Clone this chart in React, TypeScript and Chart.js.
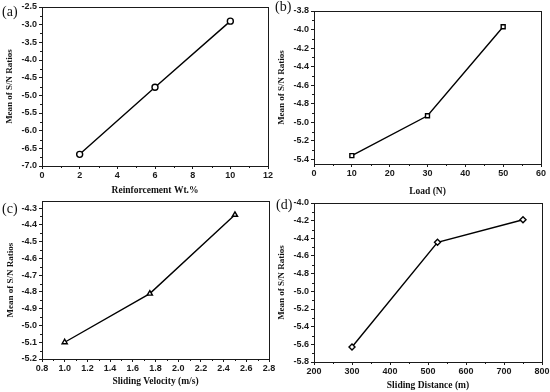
import React, { useEffect, useRef } from "react";
import { Chart, registerables } from "chart.js";

Chart.register(...registerables);

// ---- data ----
const wtX = [2, 6, 10];
const wtY = [-6.67, -4.77, -2.9];
const loadX = [10, 30, 50];
const loadY = [-5.36, -4.93, -3.97];
const velX = [1.0, 1.75, 2.5];
const velY = [-5.1, -4.81, -4.34];
const distX = [300, 525, 750];
const distY = [-5.63, -4.445, -4.19];

const yTitle = "Mean of S/N Ratios";

type Panel = {
  key: string;
  label: string;
  xs: number[];
  ys: number[];
  xTitle: string;
  marker: string;
  left: number;
  top: number;
  x: { min: number; max: number; step: number };
  y: { min: number; max: number; step: number };
  yWidth: number;
  padTop: number;
  padRight: number;
  xHeight: number;
  yTitlePad: number;
  xTitlePad: number;
  labelX: number;
  labelY: number;
};

const panels: Panel[] = [
  {
    key: "a", label: "(a)", xs: wtX, ys: wtY, xTitle: "Reinforcement Wt.%", marker: "circle",
    left: 0, top: 0,
    x: { min: 0, max: 12, step: 2 }, y: { min: -7, max: -2.5, step: 0.5 },
    yWidth: 42, padTop: 7, padRight: 7, xHeight: 30, yTitlePad: 4, xTitlePad: 0,
    labelX: 2, labelY: 12,
  },
  {
    key: "b", label: "(b)", xs: loadX, ys: loadY, xTitle: "Load (N)", marker: "rect",
    left: 275, top: 0,
    x: { min: 0, max: 60, step: 10 }, y: { min: -5.45, max: -3.8, step: 0.2 },
    yWidth: 39, padTop: 11, padRight: 9, xHeight: 32, yTitlePad: 1.3, xTitlePad: -1.7,
    labelX: 0, labelY: 7,
  },
  {
    key: "c", label: "(c)", xs: velX, ys: velY, xTitle: "Sliding Velocity (m/s)", marker: "triangle",
    left: 0, top: 196,
    x: { min: 0.8, max: 2.8, step: 0.2 }, y: { min: -5.2, max: -4.26, step: 0.1 },
    yWidth: 42, padTop: 5, padRight: 6, xHeight: 33, yTitlePad: 5, xTitlePad: 4.3,
    labelX: 2, labelY: 13.5,
  },
  {
    key: "d", label: "(d)", xs: distX, ys: distY, xTitle: "Sliding Distance (m)", marker: "rectRot",
    left: 275, top: 196,
    x: { min: 200, max: 800, step: 100 }, y: { min: -5.8, max: -4.0, step: 0.2 },
    yWidth: 39, padTop: 7, padRight: 8, xHeight: 30, yTitlePad: 1.3, xTitlePad: 0.3,
    labelX: 1, labelY: 9.5,
  },
];

const AXIS = "#1a1a1a";
const tickFont = { family: "'Liberation Sans', Arial, sans-serif", size: 9, weight: "bold" as const };
const titleFont = { family: "'Liberation Serif', 'Times New Roman', serif", size: 9.5, weight: "bold" as const };

const framePlugin = {
  id: "frame",
  afterDraw(chart: any) {
    const { ctx, chartArea } = chart;
    const opts = chart.options.plugins.frame || {};
    ctx.save();
    ctx.strokeStyle = AXIS;
    ctx.lineWidth = 1;
    ctx.strokeRect(
      Math.round(chartArea.left) + 0.5,
      Math.round(chartArea.top) + 0.5,
      Math.round(chartArea.right - chartArea.left),
      Math.round(chartArea.bottom - chartArea.top)
    );
    // minor ticks
    const xs = chart.scales.x;
    const ys = chart.scales.y;
    const minor = (scale: any, horiz: boolean) => {
      const t = scale.ticks.map((k: any) => k.value);
      for (let i = 0; i < t.length - 1; i++) {
        const mid = (t[i] + t[i + 1]) / 2;
        if (mid < scale.min || mid > scale.max) continue;
        const p = Math.round(scale.getPixelForValue(mid)) + 0.5;
        ctx.beginPath();
        if (horiz) {
          const y0 = Math.round(chartArea.bottom);
          ctx.moveTo(p, y0);
          ctx.lineTo(p, y0 + 2);
        } else {
          const x0 = Math.round(chartArea.left);
          ctx.moveTo(x0, p);
          ctx.lineTo(x0 - 2, p);
        }
        ctx.stroke();
      }
    };
    minor(xs, true);
    minor(ys, false);
    // panel label
    if (opts.label) {
      ctx.fillStyle = "#111";
      ctx.font = "14px 'Liberation Serif', 'Times New Roman', serif";
      ctx.textBaseline = "middle";
      ctx.textAlign = "left";
      ctx.fillText(opts.label, opts.lx, opts.ly);
    }
    ctx.restore();
  },
};

function PanelChart({ p }: { p: Panel }) {
  const ref = useRef<HTMLCanvasElement | null>(null);
  useEffect(() => {
    if (!ref.current) return;
    const chart = new Chart(ref.current, {
      type: "line",
      data: {
        datasets: [
          {
            data: p.xs.map((x, i) => ({ x, y: p.ys[i] })),
            borderColor: "#000",
            borderWidth: 1.4,
            pointStyle: p.marker as any,
            pointRadius: p.marker === "rect" ? 2.8 : 3,
            pointBorderWidth: 1.4,
            pointBorderColor: "#000",
            pointBackgroundColor: "#fff",
            fill: false,
            tension: 0,
          },
        ],
      },
      options: {
        animation: false,
        responsive: false,
        devicePixelRatio: 1,
        layout: { padding: { left: 0, top: p.padTop, right: p.padRight, bottom: 0 } },
        plugins: {
          legend: { display: false },
          tooltip: { enabled: false },
          frame: { label: p.label, lx: p.labelX, ly: p.labelY },
        } as any,
        scales: {
          x: {
            type: "linear",
            min: p.x.min,
            max: p.x.max,
            afterFit: (s: any) => {
              s.height = p.xHeight;
              s.paddingLeft = 0;
              s.paddingRight = 0;
            },
            border: { display: true, color: AXIS, width: 1 },
            grid: { display: true, drawOnChartArea: false, drawTicks: true, tickLength: 3, color: AXIS },
            ticks: {
              stepSize: p.x.step,
              includeBounds: false,
              color: AXIS,
              font: tickFont,
              padding: 1,
              maxRotation: 0,
              autoSkip: false,
            },
            title: {
              display: true,
              text: p.xTitle,
              color: "#111",
              font: titleFont,
              padding: { top: 0, bottom: p.xTitlePad },
            },
          },
          y: {
            type: "linear",
            min: p.y.min,
            max: p.y.max,
            afterFit: (s: any) => {
              s.width = p.yWidth;
              s.paddingTop = 0;
              s.paddingBottom = 0;
            },
            border: { display: true, color: AXIS, width: 1 },
            grid: { display: true, drawOnChartArea: false, drawTicks: true, tickLength: 3, color: AXIS },
            ticks: {
              stepSize: p.y.step,
              includeBounds: false,
              color: AXIS,
              font: tickFont,
              padding: 2,
              autoSkip: false,
              callback: (v: any) => Number(v).toFixed(1),
            },
            title: {
              display: true,
              text: yTitle,
              color: "#111",
              font: { ...titleFont, size: 9 },
              padding: { top: p.yTitlePad, bottom: 0 },
            },
          },
        },
      },
      plugins: [framePlugin],
    });
    return () => chart.destroy();
  }, [p]);
  return (
    <canvas
      ref={ref}
      width={275}
      height={196}
      style={{ position: "absolute", left: p.left, top: p.top, width: 275, height: 196 }}
    />
  );
}

export default function App() {
  return (
    <div style={{ position: "fixed", left: 0, top: 0, width: 550, height: 392, background: "#fff" }}>
      {panels.map((p) => (
        <PanelChart key={p.key} p={p} />
      ))}
    </div>
  );
}
